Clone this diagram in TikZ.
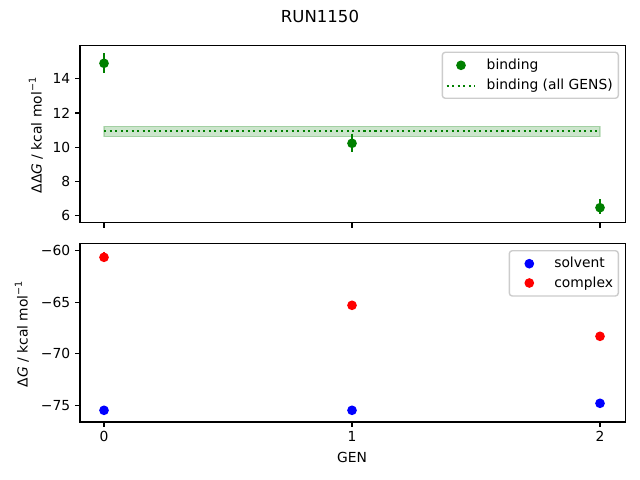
\documentclass[tikz,border=0pt]{standalone}
\usepackage{fontspec}
\setmainfont{DejaVu Sans}
\definecolor{mgreen}{HTML}{008000}
\definecolor{mred}{HTML}{FF0000}
\definecolor{mblue}{HTML}{0000FF}
\definecolor{legedge}{HTML}{CCCCCC}
\newcommand{\supm}{\raisebox{0.42em}{\fontsize{9.7}{10}\selectfont −1}}
\begin{document}
\begin{tikzpicture}[x=1bp,y=-1bp,
  every node/.style={inner sep=0pt,outer sep=0pt,font=\fontsize{13.9}{16.7}\selectfont},
  frame/.style={line width=1.1bp,black},
  tickmark/.style={line width=1.1bp,black},
  ytl/.style={anchor=east},
  xtl/.style={anchor=base},
  errbar/.style={line width=2.08bp},
  dot/.style={circle,minimum size=9.7bp,inner sep=0pt},
  legbox/.style={draw=legedge,line width=1.39bp,fill=white,fill opacity=0.8,rounded corners=3bp},
  legtext/.style={anchor=base west},
  meanline/.style={mgreen,line width=2.08bp,dash pattern=on 2.08bp off 3.44bp}
]
\useasboundingbox (0,0) rectangle (640,480);
\fill[white] (0,0) rectangle (640,480);

% title
\node[anchor=base,font=\fontsize{16.6}{20}\selectfont] (title) at (320,22.3) {RUN1150};

% ---------- top axes ----------
\fill[mgreen,fill opacity=0.2,draw=mgreen,draw opacity=0.2,line width=1.39bp] (104,126.3) rectangle (600,136.7);
\coordinate (mL) at (104,130.7);
\coordinate (mR) at (600,130.7);
\draw[meanline] (mL) -- (mR);

\draw[mgreen,errbar] (104,53.3) -- (104,72.7);
\draw[mgreen,errbar] (352,134.0) -- (352,151.7);
\draw[mgreen,errbar] (600,199.3) -- (600,214.3);
\node[dot,fill=mgreen] (g0) at (104,63.3) {};
\node[dot,fill=mgreen] (g1) at (352,143.3) {};
\node[dot,fill=mgreen] (g2) at (600,207.7) {};

\draw[frame] (80,45.3) rectangle (625.5,222.7);
\foreach \yy/\lab [count=\i] in {215.9/6,181.6/8,147.3/10,113.0/12,78.7/14}{
  \draw[tickmark] (80,\yy) -- (75.1,\yy);
  \node[ytl] (tyl\i) at (70.2,\yy) {\lab};
}
\foreach \xx in {104,352,600}{
  \draw[tickmark] (\xx,222.7) -- (\xx,227.6);
}
\node[anchor=base,rotate=90] (ylabT) at (41.7,135.5) {ΔΔ\textit{G} / kcal mol\supm};

% top legend
\draw[legbox] (442.3,52.3) rectangle (618.3,98.3);
\node[dot,fill=mgreen] (lg1) at (461,65.3) {};
\node[legtext] (lt1) at (486.7,69.5) {binding};
\coordinate (lgA) at (446.7,85.7);
\coordinate (lgB) at (474.5,85.7);
\draw[meanline] (lgA) -- (lgB);
\node[legtext] (lt2) at (486.7,89.9) {binding (all GENS)};

% ---------- bottom axes ----------
\draw[mred,errbar] (104,251.6) -- (104,259.0);
\node[dot,fill=mred] (r0) at (104,257.3) {};
\node[dot,fill=mred] (r1) at (352,305.3) {};
\node[dot,fill=mred] (r2) at (600,336.3) {};
\node[dot,fill=mblue] (b0) at (104,410.3) {};
\node[dot,fill=mblue] (b1) at (352,410.3) {};
\node[dot,fill=mblue] (b2) at (600,403.3) {};

\draw[frame] (80,243.3) rectangle (625.5,422);
\foreach \yy/\lab [count=\i] in {250.7/−60,302.3/−65,353.7/−70,405.3/−75}{
  \draw[tickmark] (80,\yy) -- (75.1,\yy);
  \node[ytl] (byl\i) at (70.2,\yy) {\lab};
}
\foreach \xx/\lab [count=\i] in {104/0,352/1,600/2}{
  \draw[tickmark] (\xx,422) -- (\xx,426.9);
  \node[xtl] (bxl\i) at (\xx,441.8) {\lab};
}
\node[anchor=base] (xlab) at (352,462.3) {GEN};
\node[anchor=base,rotate=90] (ylabB) at (27.6,334.2) {Δ\textit{G} / kcal mol\supm};

% bottom legend
\draw[legbox] (509.3,250.7) rectangle (618.3,296);
\node[dot,fill=mblue] (lb1) at (529.3,263.7) {};
\node[legtext] (lbt1) at (554.3,267.8) {solvent};
\node[dot,fill=mred] (lb2) at (529.3,283) {};
\node[legtext] (lbt2) at (554.3,287.1) {complex};
\end{tikzpicture}
\end{document}
